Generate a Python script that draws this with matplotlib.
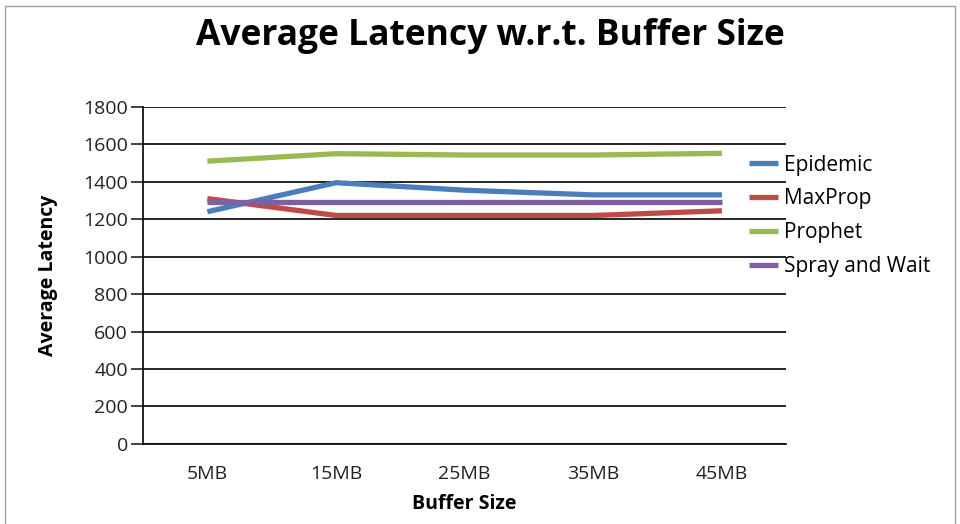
import matplotlib.pyplot as plt
from matplotlib.patches import Rectangle

plt.rcParams['font.family'] = ['Open Sans', 'DejaVu Sans']

buffer_sizes = ['5MB', '15MB', '25MB', '35MB', '45MB']
epidemic = [1240, 1395, 1355, 1330, 1330]
maxprop = [1310, 1220, 1220, 1220, 1245]
prophet = [1510, 1550, 1543, 1543, 1552]
spray_wait = [1293, 1293, 1293, 1293, 1293]

series = [
    ('Epidemic', epidemic, '#4a7ebb'),
    ('MaxProp', maxprop, '#be4b48'),
    ('Prophet', prophet, '#98b954'),
    ('Spray and Wait', spray_wait, '#7d60a0'),
]

fig = plt.figure(figsize=(9.6, 5.24), dpi=100)
ax = fig.add_axes([0.149, 0.153, 0.670, 0.643])

# light frame around the whole chart
fig.patches.append(Rectangle((0.005, -0.01), 0.99, 0.998, transform=fig.transFigure,
                             fill=False, edgecolor='#a0a0a0', linewidth=1))

x = range(len(buffer_sizes))
for name, vals, col in series:
    ax.plot(x, vals, color=col, linewidth=3.8, label=name, solid_capstyle='butt')

ax.set_xlim(-0.5, len(buffer_sizes) - 0.5)
ax.set_ylim(0, 1800)
ax.set_yticks(range(0, 1801, 200))
ax.set_xticks(list(x))
ax.set_xticklabels(buffer_sizes)
ax.yaxis.grid(True, color='black', linewidth=1.2)
ax.set_axisbelow(True)
for s in ['top', 'right']:
    ax.spines[s].set_visible(False)
ax.spines['left'].set_linewidth(1.2)
ax.spines['bottom'].set_linewidth(1.2)
ax.tick_params(axis='y', length=9, width=1.2, labelsize=14, colors='#222222', pad=2)
ax.tick_params(axis='x', length=0, labelsize=14, colors='#222222', pad=15)

ax.set_xlabel('Buffer Size', fontsize=14, fontweight='bold', labelpad=8)
ax.set_ylabel('Average Latency', fontsize=14, fontweight='bold', labelpad=18)
fig.text(0.511, 0.931, 'Average Latency w.r.t. Buffer Size', fontsize=25.5,
         fontweight='bold', ha='center', va='center')

fig.legend(loc='upper left', bbox_to_anchor=(0.772, 0.721), frameon=False,
           fontsize=15, handlelength=1.35, handletextpad=0.3, labelspacing=0.62,
           borderaxespad=0)

fig.savefig('out.png', dpi=100)
